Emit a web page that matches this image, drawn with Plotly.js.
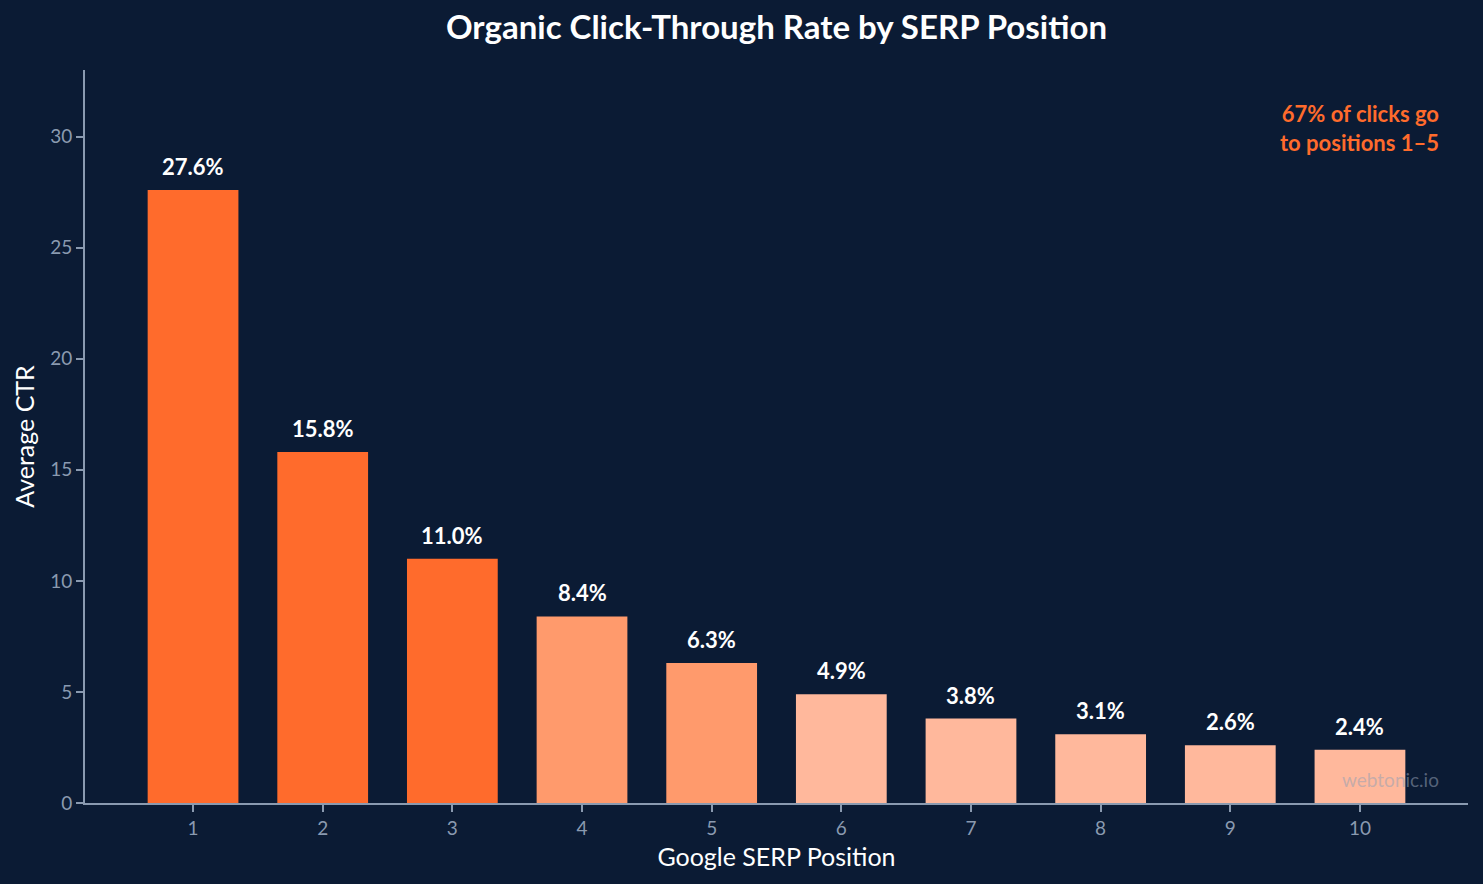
<!DOCTYPE html>
<html>
<head>
<meta charset="utf-8">
<script src="https://cdn.plot.ly/plotly-3.0.1.min.js"></script>
<style>html,body{margin:0;padding:0;background:#0b1b34;}#chart{width:1483px;height:884px;}</style>
</head>
<body>
<div id="chart"></div>
<script>
const positions = [1, 2, 3, 4, 5, 6, 7, 8, 9, 10];
const ctrValues = [27.6, 15.8, 11.0, 8.4, 6.3, 4.9, 3.8, 3.1, 2.6, 2.4];
const barLabels = ["27.6%", "15.8%", "11.0%", "8.4%", "6.3%", "4.9%", "3.8%", "3.1%", "2.6%", "2.4%"];
const tickLabels = ["1", "2", "3", "4", "5", "6", "7", "8", "9", "10"];
const barColors = ["#ff6b2c", "#ff6b2c", "#ff6b2c", "#ff9a6c", "#ff9a6c",
                   "#ffb89c", "#ffb89c", "#ffb89c", "#ffb89c", "#ffb89c"];
const calloutLines = ["67% of clicks go", "to positions 1–5"];

const axisColor = "#8a9ab0";
const trace = {
  type: "bar",
  x: positions,
  y: ctrValues,
  width: 0.7,
  marker: {color: barColors, line: {width: 0}},
  hoverinfo: "skip"
};

const labelAnnotations = positions.map((p, i) => ({
  x: p, y: ctrValues[i], xref: "x", yref: "y",
  text: "<b>" + barLabels[i] + "</b>",
  showarrow: false, xanchor: "center", yanchor: "bottom", yshift: 8,
  font: {family: "Lato, sans-serif", size: 22, color: "#ffffff"}
}));

const layout = {
  width: 1483, height: 884,
  paper_bgcolor: "#0b1b34",
  plot_bgcolor: "#0b1b34",
  margin: {l: 85, r: 15, t: 70, b: 81},
  font: {family: "Lato, sans-serif", color: "#ffffff"},
  showlegend: false,
  title: {
    text: "<b>Organic Click-Through Rate by SERP Position</b>",
    font: {family: "Lato, sans-serif", size: 33, color: "#ffffff"},
    x: 0.5, xref: "paper", y: 0.969, yref: "container", yanchor: "middle"
  },
  xaxis: {
    range: [0.1667, 10.8333],
    tickvals: positions,
    ticktext: tickLabels,
    showgrid: false, zeroline: false,
    showline: true, linecolor: axisColor, linewidth: 2,
    ticks: "outside", ticklen: 7, tickwidth: 2, tickcolor: axisColor,
    tickfont: {family: "Lato, sans-serif", size: 19, color: axisColor},
    title: {text: "Google SERP Position", font: {family: "Lato, sans-serif", size: 25, color: "#ffffff"}, standoff: 11}
  },
  yaxis: {
    range: [0, 33],
    tickvals: [0, 5, 10, 15, 20, 25, 30],
    showgrid: false, zeroline: false,
    showline: true, linecolor: axisColor, linewidth: 2,
    ticks: "outside", ticklen: 7, tickwidth: 2, tickcolor: axisColor,
    tickfont: {family: "Lato, sans-serif", size: 19, color: axisColor},
    title: {text: "Average CTR", font: {family: "Lato, sans-serif", size: 25, color: "#ffffff"}, standoff: 8}
  },
  annotations: labelAnnotations.concat([
    {
      text: "<b>" + calloutLines.join("<br>") + "</b>",
      xref: "paper", yref: "paper", x: 0.9805, y: 0.921,
      xanchor: "right", yanchor: "middle", align: "right", showarrow: false,
      font: {family: "Lato, sans-serif", size: 22, color: "#ff6b2c"}
    },
    {
      text: "webtonic.io",
      xref: "paper", yref: "paper", x: 0.9805, y: 0.0,
      xanchor: "right", yanchor: "bottom", align: "right", showarrow: false,
      yshift: 10,
      font: {family: "Lato, sans-serif", size: 19, color: "rgba(150,160,180,0.55)"}
    }
  ])
};

Plotly.newPlot("chart", [trace], layout, {displayModeBar: false, staticPlot: true});
</script>
</body>
</html>
